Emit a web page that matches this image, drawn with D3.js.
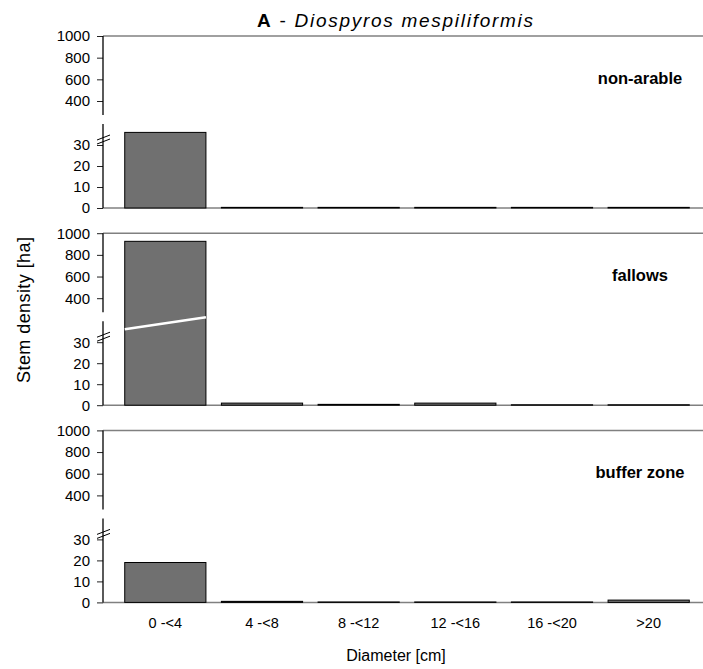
<!DOCTYPE html>
<html>
<head>
<meta charset="utf-8">
<script src="https://cdn.jsdelivr.net/npm/d3@7"></script>
<style>
  body { margin: 0; background: #fff; }
  svg text { font-family: "Liberation Sans", Arial, sans-serif; fill: #000; }
</style>
</head>
<body>
<div class="D3"></div>
<script>
// diameter classes on the x axis
var classes = ["0 -<4", "4 -<8", "8 -<12", "12 -<16", "16 -<20", ">20"];

// stem density per class, one array per land use
var nonArable = [36, 0.3, 0.3, 0.3, 0.3, 0.3];
var fallows = [925, 1.0, 0.4, 1.0, 0.2, 0.2];
var bufferZone = [19, 0.5, 0.2, 0.2, 0.2, 1.1];

var panelNames = ["non-arable", "fallows", "buffer zone"];
var panelValues = [nonArable, fallows, bufferZone];

// broken y axis: lower part 0-30, upper part 400-1000
var lowTicks = [0, 10, 20, 30];
var highTicks = [400, 600, 800, 1000];

var svgWidth = 703;
var svgHeight = 669;

var svg = d3.select(".D3")
  .append("svg")
  .attr("width", svgWidth)
  .attr("height", svgHeight);

var axisX = 103;
var firstTop = 36;
var panelHeight = 172;
var panelStep = 197.2;

var xBand = d3.scaleBand()
  .domain(classes)
  .range([117, 697])
  .paddingInner(0.16)
  .paddingOuter(0.08);

panelValues.forEach(function(values, i) {
  var top = firstTop + i * panelStep;
  var zero = top + panelHeight;

  // piecewise scale standing in for the axis break
  var y = d3.scaleLinear()
    .domain([0, 36, 400, 1000])
    .range([zero, zero - 75.6, zero - 107, zero - 172]);

  var g = svg.append("g");

  // top frame line and zero baseline
  g.append("line")
    .attr("x1", axisX).attr("x2", svgWidth)
    .attr("y1", y(1000)).attr("y2", y(1000))
    .attr("stroke", "#808080").attr("stroke-width", 1.5);

  g.append("line")
    .attr("x1", axisX).attr("x2", svgWidth)
    .attr("y1", zero).attr("y2", zero)
    .attr("stroke", "#808080").attr("stroke-width", 1.5);

  //bars
  g.selectAll("rect")
    .data(values)
    .enter()
    .append("rect")
    .attr("x", (d, j) => xBand(classes[j]))
    .attr("width", xBand.bandwidth())
    .attr("y", d => y(d))
    .attr("height", d => zero - y(d))
    .attr("fill", "#707070")
    .attr("stroke", "#000")
    .attr("stroke-width", 1);

  // white slash through bars that cross the break
  values.forEach(function(d, j) {
    if (d > 400) {
      var bx = xBand(classes[j]);
      g.append("line")
        .attr("x1", bx).attr("y1", zero - 76)
        .attr("x2", bx + xBand.bandwidth()).attr("y2", zero - 88)
        .attr("stroke", "#fff").attr("stroke-width", 2.5);
    }
  });

  // y axis, ticks only, line drawn in two pieces
  var leftAxis = d3.axisLeft(y)
    .tickValues(lowTicks.concat(highTicks))
    .tickSize(6)
    .tickPadding(7)
    .tickFormat(d3.format("d"));

  var yAxis = g.append("g")
    .attr("transform", `translate(${axisX}, 0)`)
    .call(leftAxis);
  yAxis.select(".domain").remove();
  yAxis.selectAll(".tick line").attr("stroke", "#222");
  yAxis.selectAll("text")
    .attr("font-size", 15)
    .attr("font-family", "Liberation Sans, Arial, sans-serif");

  g.append("line")
    .attr("x1", axisX).attr("x2", axisX)
    .attr("y1", y(1000)).attr("y2", zero - 93)
    .attr("stroke", "#000").attr("stroke-width", 1.3);
  g.append("line")
    .attr("x1", axisX).attr("x2", axisX)
    .attr("y1", zero - 84).attr("y2", zero)
    .attr("stroke", "#000").attr("stroke-width", 1.3);

  // break marks
  [0, 4].forEach(function(off) {
    g.append("line")
      .attr("x1", axisX - 6).attr("y1", zero - 64 - off)
      .attr("x2", axisX + 7).attr("y2", zero - 69 - off)
      .attr("stroke", "#000").attr("stroke-width", 1);
  });

  // panel name
  g.append("text")
    .attr("x", 640)
    .attr("y", top + 48)
    .attr("text-anchor", "middle")
    .attr("font-size", 16.5)
    .attr("font-weight", "bold")
    .text(panelNames[i]);

  // category labels under the last panel
  if (i === panelValues.length - 1) {
    var bottomAxis = d3.axisBottom(xBand).tickSize(0).tickPadding(15);
    var xAxis = g.append("g")
      .attr("transform", `translate(0, ${zero})`)
      .call(bottomAxis);
    xAxis.select(".domain").remove();
    xAxis.selectAll("text")
      .attr("font-size", 14.5)
      .attr("font-family", "Liberation Sans, Arial, sans-serif");
  }
});

//title
var title = svg.append("text")
  .attr("x", 395)
  .attr("y", 27)
  .attr("text-anchor", "middle")
  .attr("font-size", 19)
  .attr("textLength", 276)
  .attr("lengthAdjust", "spacing");
title.append("tspan").attr("font-weight", "bold").text("A");
title.append("tspan").text(" - ");
title.append("tspan").attr("font-style", "italic").text("Diospyros mespiliformis");

//axis titles
svg.append("text")
  .attr("transform", "translate(30, 310) rotate(-90)")
  .attr("text-anchor", "middle")
  .attr("font-size", 18)
  .attr("textLength", 146)
  .attr("lengthAdjust", "spacing")
  .text("Stem density [ha]");

svg.append("text")
  .attr("x", 396)
  .attr("y", 661)
  .attr("text-anchor", "middle")
  .attr("font-size", 16)
  .text("Diameter [cm]");
</script>
</body>
</html>
